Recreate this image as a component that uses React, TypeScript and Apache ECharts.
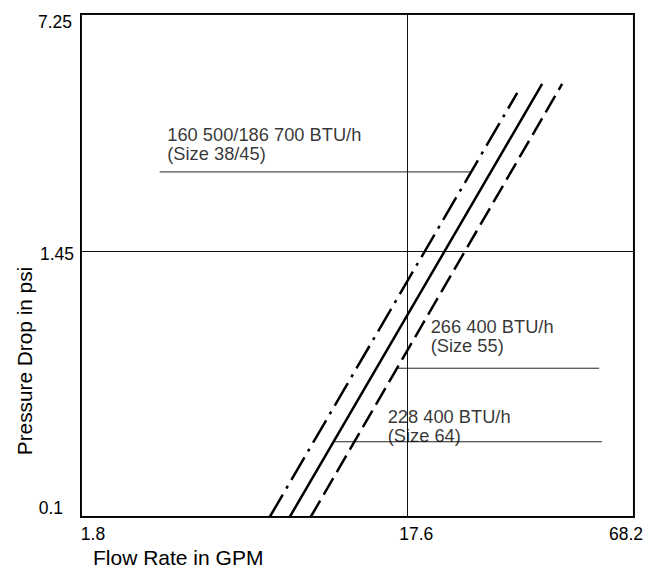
import React, { useEffect, useRef } from 'react';
import * as echarts from 'echarts';

// Axis ticks (the printed chart is log within each labelled segment)
const xTickValues = [1.8, 17.6, 68.2];
const xTickLabels = ['1.8', '17.6', '68.2'];
const yTickValues = [0.1, 1.45, 7.25];
const yTickLabels = ['0.1', '1.45', '7.25'];
const xTickFrac = [0, 0.59, 1];
const yTickFrac = [0, 0.529, 1];

// Curves: [start, end] flow in GPM and pressure drop in psi
const dashDotFlow = [6.73, 33.95];
const dashDotPsi = [0.1, 4.24];
const solidFlow = [7.74, 39.4];
const solidPsi = [0.1, 4.51];
const dashedFlow = [8.96, 44.4];
const dashedPsi = [0.1, 4.51];

// Leader lines for the annotations
const leaderFlowA = [3.12, 25.8];
const leaderPsiA = 2.48;
const leaderFlowB = [16.4, 55.4];
const leaderPsiB = 0.446;
const leaderFlowC = [10.6, 56.3];
const leaderPsiC = 0.213;

// Annotation texts and their anchors (top-left of text)
const labelTexts = ['160 500/186 700 BTU/h\n(Size 38/45)', '266 400 BTU/h\n(Size 55)', '228 400 BTU/h\n(Size 64)'];
const labelFlow = [3.3, 20.3, 15.4];
const labelPsi = [3.41, 0.741, 0.302];

const FONT = '"Liberation Sans", Arial, Helvetica, sans-serif';

function toFrac(v: number, ticks: number[], fracs: number[]): number {
  let i = 0;
  while (i < ticks.length - 2 && v > ticks[i + 1]) i++;
  const l0 = Math.log10(ticks[i]);
  const l1 = Math.log10(ticks[i + 1]);
  return fracs[i] + ((Math.log10(v) - l0) / (l1 - l0)) * (fracs[i + 1] - fracs[i]);
}
const fx = (v: number) => toFrac(v, xTickValues, xTickFrac);
const fy = (v: number) => toFrac(v, yTickValues, yTickFrac);

function nearest(val: number, fracs: number[]): number {
  let best = 0;
  for (let i = 1; i < fracs.length; i++) {
    if (Math.abs(fracs[i] - val) < Math.abs(fracs[best] - val)) best = i;
  }
  return best;
}

const seg = (flow: number[], psi: number[]) => [
  [fx(flow[0]), fy(psi[0])],
  [fx(flow[1]), fy(psi[1])],
];

export default function App() {
  const ref = useRef<HTMLDivElement>(null);
  useEffect(() => {
    if (!ref.current) return;
    const chart = echarts.init(ref.current, undefined, { renderer: 'svg' });
    const lbl = { fontSize: 17.5, fontFamily: FONT, color: '#000' };
    const leaderStyle = { color: '#222', width: 1 };
    const option: any = {
      animation: false,
      grid: { left: 81, right: 11, top: 14, bottom: 53, show: true, borderColor: '#000', borderWidth: 2, backgroundColor: 'transparent' },
      xAxis: {
        type: 'value', min: 0, max: 1, interval: xTickFrac[1],
        axisLine: { show: false }, axisTick: { show: false },
        splitLine: { show: true, lineStyle: { color: '#111', width: 1 } },
        axisLabel: {
          ...lbl, margin: 8,
          formatter: (val: number) => { const i = nearest(val, xTickFrac); return `{x${i}|${xTickLabels[i]}}`; },
          rich: {
            x0: { ...lbl, padding: [0, 0, 0, 24] },
            x1: { ...lbl, padding: [0, 0, 0, 18] },
            x2: { ...lbl, padding: [0, 16, 0, 0] },
          },
        },
      },
      yAxis: {
        type: 'value', min: 0, max: 1, interval: yTickFrac[1],
        axisLine: { show: false }, axisTick: { show: false },
        splitLine: { show: true, lineStyle: { color: '#111', width: 1 } },
        axisLabel: {
          ...lbl, margin: 7,
          formatter: (val: number) => { const i = nearest(val, yTickFrac); return `{y${i}|${yTickLabels[i]}}`; },
          rich: {
            y0: { ...lbl, padding: [0, 11, 18, 0] },
            y1: { ...lbl, padding: [7, 0, 0, 0] },
            y2: { ...lbl, padding: [15, 2, 0, 0] },
          },
        },
      },
      graphic: [
        { type: 'text', x: 93, y: 557, silent: true, style: { text: 'Flow Rate in GPM', fontSize: 21, fontFamily: FONT, fill: '#000', align: 'left', verticalAlign: 'middle' } },
        { type: 'text', x: 24.5, y: 361, rotation: Math.PI / 2, silent: true, style: { text: 'Pressure Drop in psi', fontSize: 20.8, fontFamily: FONT, fill: '#000', align: 'center', verticalAlign: 'middle' } },
      ],
      series: [
        { type: 'line', name: 'leaderA', data: seg(leaderFlowA, [leaderPsiA, leaderPsiA]), showSymbol: false, lineStyle: leaderStyle, silent: true, z: 1 },
        { type: 'line', name: 'leaderB', data: seg(leaderFlowB, [leaderPsiB, leaderPsiB]), showSymbol: false, lineStyle: leaderStyle, silent: true, z: 1 },
        { type: 'line', name: 'leaderC', data: seg(leaderFlowC, [leaderPsiC, leaderPsiC]), showSymbol: false, lineStyle: leaderStyle, silent: true, z: 1 },
        { type: 'line', name: 'Size 38/45', data: seg(dashDotFlow, dashDotPsi), showSymbol: false, silent: true, z: 3, lineStyle: { color: '#000', width: 2.5, type: [26, 7, 3, 7], cap: 'butt' } },
        { type: 'line', name: 'Size 64', data: seg(solidFlow, solidPsi), showSymbol: false, silent: true, z: 3, lineStyle: { color: '#000', width: 2.5, type: 'solid' } },
        { type: 'line', name: 'Size 55', data: seg(dashedFlow, dashedPsi), showSymbol: false, silent: true, z: 3, lineStyle: { color: '#000', width: 2.5, type: [19, 7], cap: 'butt' } },
        {
          type: 'scatter', name: 'labels', symbolSize: 1, silent: true, z: 4,
          itemStyle: { color: 'rgba(0,0,0,0)' },
          label: { show: true, position: [0, 0], align: 'left', verticalAlign: 'top', fontSize: 18.3, lineHeight: 19, fontFamily: FONT, color: '#000' },
          data: labelTexts.map((t, i) => ({ value: [fx(labelFlow[i]), fy(labelPsi[i])], label: { formatter: t } })),
        },
      ],
    };
    chart.setOption(option);
    return () => chart.dispose();
  }, []);
  return <div ref={ref} style={{ position: 'fixed', left: 0, top: 0, width: 646, height: 570, background: '#fff' }} />;
}
